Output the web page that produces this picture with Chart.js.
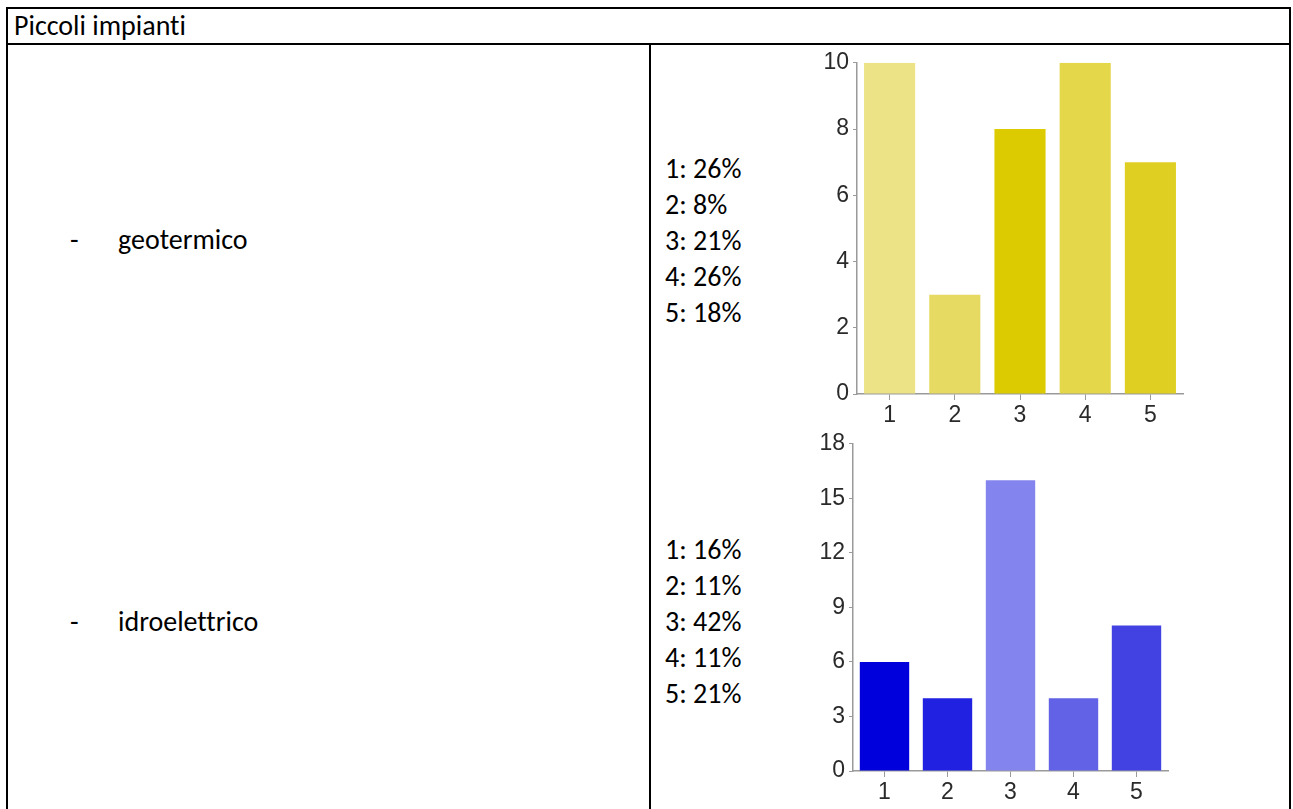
<!DOCTYPE html>
<html>
<head>
<meta charset="utf-8">
<title>Piccoli impianti</title>
<script src="https://cdn.jsdelivr.net/npm/chart.js@4"></script>
<style>
  html, body { margin: 0; padding: 0; background: #fff; }
  body { width: 1293px; height: 809px; position: relative; overflow: hidden;
         font-family: Carlito, Calibri, Lato, sans-serif; color: #000;
         font-variant-ligatures: none; }
  .line { position: absolute; background: #000; }
  .txt { position: absolute; font-size: 28px; line-height: 36px; white-space: nowrap; }
  .pct { position: absolute; font-size: 28px; line-height: 36px; white-space: pre; }
  .box { position: absolute; }
</style>
</head>
<body>
  <!-- table frame -->
  <div class="line" style="left:6px;top:7px;width:1285px;height:2px"></div>
  <div class="line" style="left:6px;top:43px;width:1285px;height:2px"></div>
  <div class="line" style="left:6px;top:7px;width:2px;height:810px"></div>
  <div class="line" style="left:1289px;top:7px;width:2px;height:810px"></div>
  <div class="line" style="left:649px;top:43px;width:2px;height:770px"></div>

  <div class="txt" style="left:14px;top:8px">Piccoli impianti</div>

  <div class="txt" style="left:70px;top:222px">-</div>
  <div class="txt" style="left:118px;top:222px">geotermico</div>
  <div class="txt" style="left:70px;top:604px">-</div>
  <div class="txt" style="left:118px;top:604px">idroelettrico</div>

  <div class="pct" id="pctGeo" style="left:665px;top:151px"></div>
  <div class="pct" id="pctIdro" style="left:665px;top:532px"></div>

  <div class="box" style="left:815px;top:45px;width:385px;height:385px"><canvas id="geoChart"></canvas></div>
  <div class="box" style="left:815px;top:426px;width:385px;height:379px"><canvas id="idroChart"></canvas></div>

<script>
/* ---- data ---- */
const categories = ["1", "2", "3", "4", "5"];

const geoValues = [10, 3, 8, 10, 7];
const geoPercent = ["26%", "8%", "21%", "26%", "18%"];
const geoMax = 10;
const geoStep = 2;

const idroValues = [6, 4, 16, 4, 8];
const idroPercent = ["16%", "11%", "42%", "11%", "21%"];
const idroMax = 18;
const idroStep = 3;

const geoColors = ["#ece386", "#e6da62", "#dccb00", "#e5d74a", "#dfcf22"];
const idroColors = ["#0000dc", "#2121e2", "#8484ee", "#6262e6", "#4242e3"];

/* ---- percentage lists ---- */
function fillPercent(id, pct) {
  document.getElementById(id).textContent =
    categories.map((c, i) => `${c}: ${pct[i]}`).join("\n");
}
fillPercent("pctGeo", geoPercent);
fillPercent("pctIdro", idroPercent);

/* ---- bar charts ---- */
function buildBarChart(canvasId, values, colors, max, step, layout) {
  const axisColor = "#9a9a9a";
  const tickFont = { family: "'Liberation Sans', Arial, sans-serif", size: 23 };

  new Chart(document.getElementById(canvasId), {
    type: "bar",
    data: {
      labels: categories,
      datasets: [{
        data: values,
        backgroundColor: colors,
        borderWidth: 0,
        barPercentage: 0.98,
        categoryPercentage: 0.8,
      }],
    },
    options: {
      responsive: true,
      maintainAspectRatio: false,
      animation: false,
      layout: { padding: { top: layout.top, right: layout.right, left: 0, bottom: 0 } },
      plugins: { legend: { display: false }, tooltip: { enabled: false } },
      scales: {
        x: {
          afterFit: (s) => { s.height = layout.xh; },
          grid: { offset: false, drawOnChartArea: false, drawTicks: true, tickLength: 6, color: axisColor },
          border: { display: true, color: axisColor, width: 1.5 },
          ticks: { color: "#2a2a2a", font: tickFont, padding: 2 },
        },
        y: {
          min: 0,
          max: max,
          afterFit: (s) => { s.width = layout.yw; },
          grid: { drawOnChartArea: false, drawTicks: true, tickLength: 4, color: axisColor },
          border: { display: true, color: axisColor, width: 1.5 },
          ticks: { stepSize: step, color: "#2a2a2a", font: tickFont, padding: 4 },
        },
      },
    },
  });
}

buildBarChart("geoChart", geoValues, geoColors, geoMax, geoStep,
  { top: 13, right: 17, xh: 36, yw: 42 });
buildBarChart("idroChart", idroValues, idroColors, idroMax, idroStep,
  { top: 8, right: 32, xh: 34, yw: 38 });
</script>
</body>
</html>
